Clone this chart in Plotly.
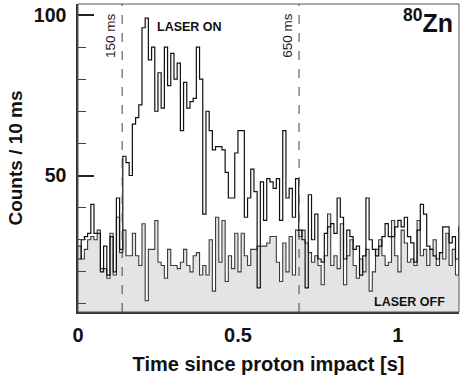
import plotly.graph_objects as go

# ---- data (counts per 10 ms bin, bins start at 0 s) ----
bin_width = 0.01
laser_on = [
    24, 30, 31, 32, 41, 32, 32, 20, 28, 19,
    31, 20, 43, 27, 56, 54, 50, 66, 68, 72,
    96, 99, 86, 90, 70, 82, 71, 90, 78, 88,
    80, 85, 64, 79, 71, 73, 74, 90, 80, 38,
    70, 64, 58, 59, 59, 58, 51, 43, 43, 57,
    64, 64, 37, 43, 52, 45, 15, 48, 36, 49,
    48, 46, 49, 36, 64, 43, 46, 37, 49, 33,
    30, 15, 44, 30, 38, 24, 23, 32, 34, 35,
    32, 43, 37, 24, 33, 31, 27, 28, 19, 25,
    43, 30, 27, 25, 28, 31, 35, 31, 31, 34,
    36, 34, 37, 31, 29, 23, 33, 41, 38, 28,
    27, 25, 24, 26, 34, 34, 29, 31, 24, 34,
]
laser_off = [
    28, 24, 27, 30, 31, 30, 33, 21, 21, 18,
    32, 19, 37, 26, 33, 25, 25, 32, 25, 22,
    35, 11, 27, 27, 36, 23, 22, 18, 27, 22,
    22, 21, 23, 27, 22, 20, 25, 26, 19, 22,
    19, 30, 14, 37, 23, 36, 17, 25, 21, 32,
    20, 32, 25, 22, 27, 27, 28, 28, 28, 29,
    31, 31, 23, 17, 29, 20, 31, 19, 33, 31,
    33, 29, 26, 23, 25, 22, 16, 25, 38, 22,
    25, 21, 35, 16, 25, 30, 22, 18, 24, 20,
    27, 14, 20, 27, 30, 25, 22, 23, 36, 25,
    20, 33, 29, 23, 24, 22, 36, 25, 27, 22,
    27, 30, 22, 26, 24, 32, 22, 27, 19, 26,
]
marker_lines = [0.138, 0.691]
marker_labels = ["150 ms", "650 ms"]
x_ticks = [0, 0.5, 1]
x_tick_labels = ["0", "0.5", "1"]
y_ticks = [50, 100]

FONT = "Liberation Sans, Arial, Helvetica, sans-serif"

def edges(vals):
    xs = [i * bin_width for i in range(len(vals) + 1)]
    ys = list(vals) + [vals[-1]]
    return xs, ys

fig = go.Figure()
xo, yo = edges(laser_off)
fig.add_trace(go.Scatter(x=xo, y=yo, mode="lines", line_shape="hv",
                         line=dict(color="#3a3a3a", width=1.1),
                         fill="tozeroy", fillcolor="#e4e4e6", showlegend=False))
xn, yn = edges(laser_on)
fig.add_trace(go.Scatter(x=xn, y=yn, mode="lines", line_shape="hv",
                         line=dict(color="#111111", width=1.2), showlegend=False))

for xv, lab in zip(marker_lines, marker_labels):
    fig.add_shape(type="line", xref="x", yref="paper", x0=xv, x1=xv, y0=0, y1=1,
                  line=dict(color="#444444", width=1, dash="dash"))
    fig.add_annotation(x=xv, xref="x", xshift=-11, y=93.5, yref="y", yanchor="middle",
                       xanchor="center",
                       text=lab, textangle=-90, showarrow=False,
                       font=dict(family=FONT, size=13.5, color="#222"))

# frame
fig.add_shape(type="rect", xref="paper", yref="paper", x0=0, x1=1, y0=0, y1=1,
              line=dict(color="#555555", width=1), layer="above")

fig.add_annotation(x=0.293, y=0.926, xref="paper", yref="paper", xanchor="center",
                   yanchor="middle", text="<b>LASER ON</b>", showarrow=False,
                   font=dict(family=FONT, size=12.5, color="#111"))
fig.add_annotation(x=0.871, y=0.034, xref="paper", yref="paper", xanchor="center",
                   yanchor="middle", text="<b>LASER OFF</b>", showarrow=False,
                   font=dict(family=FONT, size=12.5, color="#111"))
fig.add_annotation(x=0.99, y=0.945, xref="paper", yref="paper", xanchor="right",
                   yanchor="middle", text="<b><sup>80</sup>Zn</b>", showarrow=False,
                   font=dict(family=FONT, size=25, color="#111"))

fig.update_layout(
    width=461, height=386,
    margin=dict(l=78, r=2, t=4, b=74),
    paper_bgcolor="white", plot_bgcolor="white",
    font=dict(family=FONT, color="#111"),
    xaxis=dict(range=[0, 1.191], showgrid=False, zeroline=False,
               tickmode="array", tickvals=x_ticks,
               ticktext=["<b>%s</b>" % t for t in x_tick_labels],
               ticks="", tickfont=dict(size=20, family=FONT, color="#111"),
               ticklabelstandoff=4,
               title=dict(text="<b>Time since proton impact [s]</b>",
                          font=dict(size=20, family=FONT, color="#111"), standoff=12),
               showline=True, linecolor="#333", linewidth=1.5),
    yaxis=dict(range=[7.5, 103.4], showgrid=False, zeroline=False,
               tickmode="array", tickvals=y_ticks,
               ticktext=["<b>%d</b>" % v for v in y_ticks],
               ticks="inside", ticklen=16, tickwidth=2, tickcolor="#222",
               minor=dict(ticks="inside", ticklen=8, tickwidth=1, tickcolor="#444", dtick=10, tick0=0),
               tickfont=dict(size=19.5, family=FONT, color="#111"),
               ticklabelstandoff=6,
               title=dict(text="<b>Counts / 10 ms</b>",
                          font=dict(size=19, family=FONT, color="#111"), standoff=6),
               showline=True, linecolor="#333", linewidth=1.5),
)

fig.write_html("out.html")
